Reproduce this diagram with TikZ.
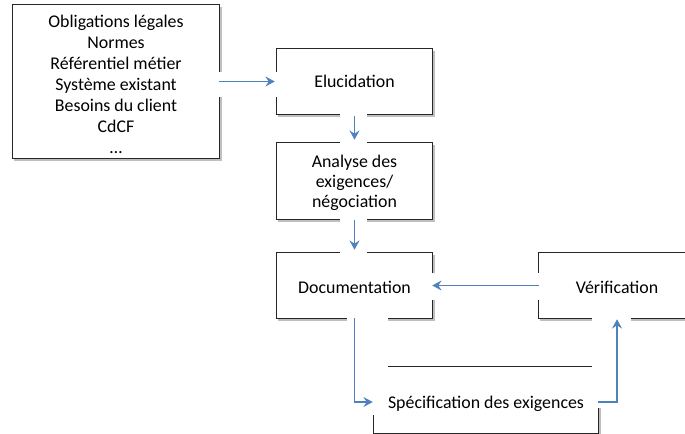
\documentclass[tikz,border=0pt]{standalone}
\usepackage{fontspec}
\setmainfont{Carlito}
\usetikzlibrary{arrows.meta,backgrounds}

\definecolor{flowblue}{HTML}{4F81BD}

\begin{document}
\begin{tikzpicture}[x=0.75pt,y=-0.75pt,
  every node/.style={font=\fontsize{13.4}{15.75}\selectfont, inner sep=0pt, align=center},
  box/.style 2 args={minimum width=#1*0.75pt, minimum height=#2*0.75pt},
  frame/.style={draw=black!85, line width=0.8pt},
  shade/.style={draw=black!25, line width=1.3pt},
  mask/.style={fill=white},
  flow/.style={draw=flowblue, line width=1.4pt,
    -{Stealth[length=7pt,width=7.5pt,inset=2.5pt]}}]

\useasboundingbox (0,0) rectangle (685,434);

% process steps
\node[box={206}{153}] (src) at (116,81.5)
  {\rule{0pt}{13.8pt}Obligations légales\\Normes\\Référentiel métier\\Système existant\\Besoins du client\\CdCF\\…};
\node[box={155}{65}] (eluc) at (354.5,81.5) {Elucidation};
\node[box={155}{76}, font=\fontsize{13.4}{15}\selectfont] (ana) at (354.5,181)
  {\rule{0pt}{12pt}Analyse des\\exigences/\\négociation};
\node[box={155}{65}] (doc) at (354.5,285.5) {\rule{0pt}{11.5pt}Documentation};
\node[box={156}{65}] (ver) at (617,285.5) {\rule{0pt}{11.5pt}Vérification};
\node[box={224}{66}] (spec) at (486,400) {\rule{0pt}{14.5pt}Spécification des exigences};

% frames with a soft shadow, opened where the connectors pass
\begin{scope}[on background layer]
  \foreach \n in {src,eluc,ana,doc,ver,spec}{
    \draw[shade] ([shift={(1.5,2)}]\n.north east) -- ([shift={(1.5,2)}]\n.south east)
                 -- ([shift={(1.5,2)}]\n.south west);
    \draw[frame] (\n.north west) rectangle (\n.south east);
  }
  \fill[mask] (214,72) rectangle (282,97);
  \fill[mask] (340,109) rectangle (367,147);
  \fill[mask] (340,214) rectangle (367,257);
  \fill[mask] (428,273) rectangle (544,300);
  \fill[mask] (347,313) rectangle (388,415);
  \fill[mask] (592,313) rectangle (631,408);
  \fill[mask] (388,370) rectangle (592,432);
\end{scope}

% connectors
\draw[flow, shorten >=1.5pt] (src.east) -- (eluc.west);
\draw[flow, shorten <=1.5pt, shorten >=2.25pt] (eluc.south) -- (ana.north);
\draw[flow, shorten <=0.75pt, shorten >=2.25pt] (ana.south) -- (doc.north);
\draw[flow] (ver.west) -- (doc.east);
\draw[flow, shorten >=0.75pt] (doc.south) |- ([yshift=-1.5pt]spec.west);
\draw[flow, shorten >=0.75pt] ([yshift=-1.5pt]spec.east) -| (ver.south);

\end{tikzpicture}
\end{document}
